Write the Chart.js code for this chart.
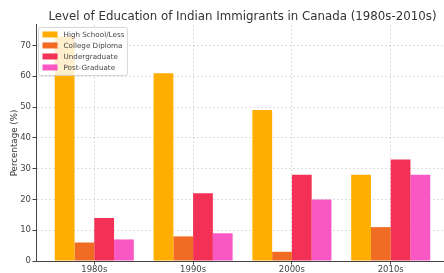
<!DOCTYPE html>
<html>
<head>
<meta charset="utf-8">
<script src="https://cdn.jsdelivr.net/npm/chart.js@4/dist/chart.umd.min.js"></script>
<style>
html,body{margin:0;padding:0;background:#fff;overflow:hidden;}
#wrap{width:449px;height:273px;}
</style>
</head>
<body>
<div id="wrap"><canvas id="c" width="449" height="273"></canvas></div>
<script>
const decades = ["1980s", "1990s", "2000s", "2010s"];
const highSchool = [73, 61, 49, 28];
const collegeDiploma = [6, 8, 3, 11];
const undergraduate = [14, 22, 28, 33];
const postGraduate = [7, 9, 20, 28];
const seriesNames = ["High School/Less", "College Diploma", "Undergraduate", "Post-Graduate"];
const yTicks = [0, 10, 20, 30, 40, 50, 60, 70];

const colors = ["#FFAD00", "#F06B23", "#F33056", "#F857C4"];
const series = [highSchool, collegeDiploma, undergraduate, postGraduate];

const FONT = "'DejaVu Sans', sans-serif";

const legendPlugin = {
  id: 'insideLegend',
  afterDatasetsDraw(chart) {
    const ctx = chart.ctx;
    const a = chart.chartArea;
    ctx.save();
    ctx.font = "7.2px " + FONT;
    let maxW = 0;
    chart.data.datasets.forEach(d => { maxW = Math.max(maxW, ctx.measureText(d.label).width); });
    const x0 = a.left + 2, y0 = a.top + 2;
    const rowH = 11;
    const w = 25.5 + maxW + 2.5;
    const h = rowH * chart.data.datasets.length + 4;
    ctx.beginPath();
    if (ctx.roundRect) ctx.roundRect(x0 + 0.5, y0 + 0.5, w, h, 2); else ctx.rect(x0 + 0.5, y0 + 0.5, w, h);
    ctx.fillStyle = "rgba(255,255,255,0.8)";
    ctx.fill();
    ctx.strokeStyle = "rgba(204,204,204,0.8)";
    ctx.lineWidth = 1;
    ctx.stroke();
    chart.data.datasets.forEach((d, i) => {
      const cy = y0 + 7.5 + i * rowH;
      ctx.fillStyle = d.backgroundColor;
      ctx.fillRect(x0 + 4.5, cy - 3, 15, 6);
      ctx.fillStyle = "#444";
      ctx.textBaseline = "middle";
      ctx.textAlign = "left";
      ctx.fillText(d.label, x0 + 25.5, cy + 0.5);
    });
    ctx.restore();
  }
};

new Chart(document.getElementById('c'), {
  type: 'bar',
  data: {
    datasets: series.map((vals, i) => ({
      label: seriesNames[i],
      data: vals.map((v, j) => ({ x: j, y: v })),
      backgroundColor: colors[i],
      borderWidth: 0,
      categoryPercentage: 0.8,
      barPercentage: 1.0
    }))
  },
  options: {
    responsive: false,
    animation: false,
    devicePixelRatio: 1,
    layout: { padding: { left: 0, right: 0, top: 0, bottom: 0 } },
    plugins: {
      legend: { display: false },
      tooltip: { enabled: false },
      title: {
        display: true,
        text: "Level of Education of Indian Immigrants in Canada (1980s-2010s)",
        fullSize: false,
        color: "#333",
        font: { family: FONT, size: 11.8, weight: 'normal' },
        padding: { top: 10.3, bottom: 0.5 }
      }
    },
    scales: {
      x: {
        type: 'linear',
        offset: false,
        min: -0.59,
        max: 3.59,
        afterBuildTicks: (s) => { s.ticks = decades.map((d, i) => ({ value: i })); },
        afterFit: (s) => { s.height = 12; },
        ticks: {
          callback: (v) => decades[v],
          color: "#444",
          font: { family: FONT, size: 8.5 },
          padding: 0,
          maxRotation: 0,
          autoSkip: false
        },
        grid: {
          offset: false,
          color: "rgba(0,0,0,0.13)",
          drawTicks: true,
          tickLength: 3.5,
          tickColor: "#444",
          tickBorderDash: [],
          tickWidth: 1
        },
        border: { display: true, color: "#444", width: 1, dash: [2, 2] }
      },
      y: {
        min: 0,
        max: 76.65,
        afterBuildTicks: (s) => { s.ticks = yTicks.map(v => ({ value: v })); },
        afterFit: (s) => { s.width = 36; },
        ticks: {
          color: "#444",
          font: { family: FONT, size: 8.5 },
          padding: 1.5
        },
        title: {
          display: true,
          text: "Percentage (%)",
          color: "#333",
          font: { family: FONT, size: 8.7 },
          padding: { top: 9.3, bottom: 0 }
        },
        grid: {
          color: "rgba(0,0,0,0.13)",
          drawTicks: true,
          tickLength: 3.5,
          tickColor: "#444",
          tickBorderDash: [],
          tickWidth: 1
        },
        border: { display: true, color: "#444", width: 1, dash: [2, 2] }
      }
    }
  },
  plugins: [legendPlugin]
});
</script>
</body>
</html>
